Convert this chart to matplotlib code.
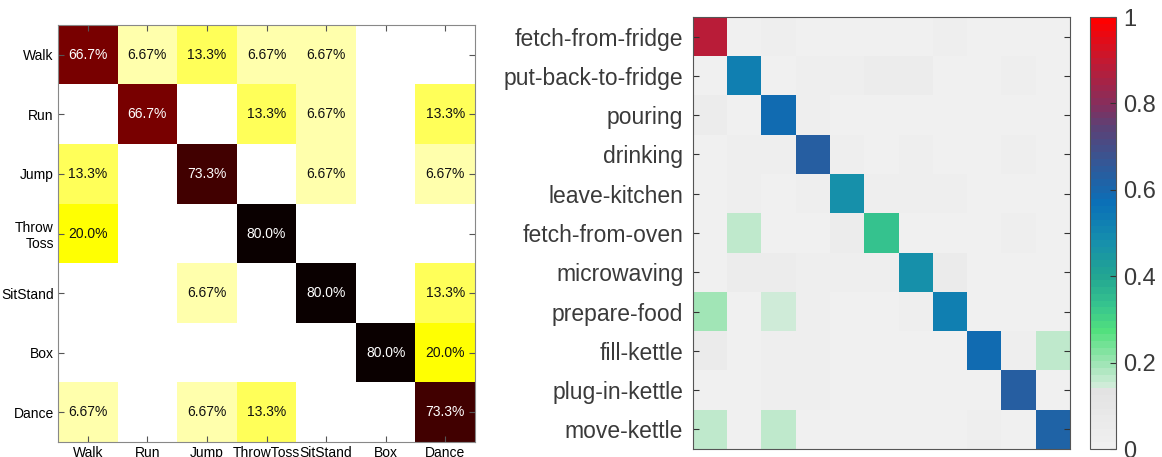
import numpy as np
import matplotlib
matplotlib.use("Agg")
import matplotlib.pyplot as plt
from matplotlib.colors import LinearSegmentedColormap

plt.rcParams['font.family'] = ['Liberation Sans', 'DejaVu Sans']

# left: action confusion matrix (percent)
act_labels = ["Walk", "Run", "Jump", "ThrowToss", "SitStand", "Box", "Dance"]
act_ylabels = ["Walk", "Run", "Jump", "Throw\nToss", "SitStand", "Box", "Dance"]
act_conf = np.array([
    [66.7, 6.67, 13.3, 6.67, 6.67, 0, 0],
    [0, 66.7, 0, 13.3, 6.67, 0, 13.3],
    [13.3, 0, 73.3, 0, 6.67, 0, 6.67],
    [20.0, 0, 0, 80.0, 0, 0, 0],
    [0, 0, 6.67, 0, 80.0, 0, 13.3],
    [0, 0, 0, 0, 0, 80.0, 20.0],
    [6.67, 0, 6.67, 13.3, 0, 0, 73.3],
])

# right: kitchen activity confusion matrix (fraction)
kit_labels = ["fetch-from-fridge", "put-back-to-fridge", "pouring", "drinking",
              "leave-kitchen", "fetch-from-oven", "microwaving", "prepare-food",
              "fill-kettle", "plug-in-kettle", "move-kettle"]
kit_conf = np.array([
    [0.88, 0, 0.03, 0.01, 0.01, 0.01, 0, 0.02, 0, 0, 0.01],
    [0, 0.53, 0, 0.02, 0.03, 0.04, 0.04, 0, 0, 0.02, 0],
    [0.04, 0.01, 0.58, 0.02, 0, 0.01, 0, 0, 0, 0, 0],
    [0.01, 0.03, 0.03, 0.63, 0.03, 0, 0.02, 0, 0, 0.02, 0],
    [0.01, 0.03, 0.01, 0.02, 0.47, 0.02, 0.02, 0.02, 0, 0, 0],
    [0, 0.16, 0, 0.01, 0.04, 0.33, 0.01, 0, 0, 0.02, 0],
    [0, 0.04, 0.04, 0.02, 0.02, 0.02, 0.47, 0.05, 0, 0.01, 0],
    [0.19, 0, 0.155, 0.02, 0, 0, 0.02, 0.52, 0.01, 0, 0],
    [0.05, 0, 0.02, 0.02, 0, 0, 0, 0, 0.58, 0.02, 0.16],
    [0.01, 0, 0.02, 0.02, 0, 0, 0, 0, 0, 0.63, 0],
    [0.16, 0, 0.16, 0, 0, 0, 0, 0, 0.03, 0, 0.61],
])

fig = plt.figure(figsize=(11.62, 4.57), dpi=100)

# ---- left panel
W, H = 1162, 457
ax1 = fig.add_axes([58 / W, 15 / H, 417 / W, 417 / H])
ax1.imshow(act_conf, cmap='hot_r', vmin=0, vmax=80, aspect='auto')
n = len(act_labels)
for i in range(n):
    for j in range(n):
        v = act_conf[i, j]
        if v == 0:
            continue
        s = f"{v:.2f}%" if v < 10 else f"{v:.1f}%"
        ax1.text(j, i, s, ha='center', va='center', fontsize=10,
                 color='white' if v > 40 else '#111111')
ax1.set_xticks(range(n))
ax1.set_xticklabels(act_labels, fontsize=10)
ax1.set_yticks(range(n))
ax1.set_yticklabels(act_ylabels, fontsize=10)
ax1.tick_params(direction='in', length=4, top=True, right=True, pad=3,
                color='#555555')
for sp in ax1.spines.values():
    sp.set_color('#888888')

# ---- right panel
kit_cmap = LinearSegmentedColormap.from_list('kit', [
    (0.0, '#f0f0f0'),
    (0.13, '#e3e3e3'),
    (0.14, '#d2ecda'),
    (0.2, '#98e4b0'),
    (0.27, '#52e07e'),
    (0.33, '#36c48e'),
    (0.4, '#22a592'),
    (0.48, '#168fac'),
    (0.57, '#0a70b8'),
    (0.65, '#2d5b9c'),
    (0.75, '#5c4175'),
    (0.8, '#842f5e'),
    (0.9, '#c01a34'),
    (1.0, '#ff0000'),
], N=64)

ax2 = fig.add_axes([693 / W, 8 / H, 377 / W, 432 / H])
im = ax2.imshow(kit_conf, cmap=kit_cmap, vmin=0, vmax=1, aspect='auto')
m = len(kit_labels)
ax2.set_xticks([])
ax2.set_yticks(range(m))
ax2.set_yticklabels(kit_labels, fontsize=16.5, color='#3a3a3a')
ax2.tick_params(axis='y', direction='in', length=4, right=True, pad=7,
                color='#333333')
for sp in ax2.spines.values():
    sp.set_color('#555555')

cax = fig.add_axes([1090 / W, 8 / H, 26 / W, 432 / H])
cb = fig.colorbar(im, cax=cax)
cb.set_ticks([0, 0.2, 0.4, 0.6, 0.8, 1])
cb.set_ticklabels(["0", "0.2", "0.4", "0.6", "0.8", "1"])
cb.ax.tick_params(direction='in', length=4, labelsize=17, labelcolor='#3a3a3a',
                  color='#333333', pad=5)
cb.outline.set_edgecolor('#555555')

fig.savefig("out.png", dpi=100)
